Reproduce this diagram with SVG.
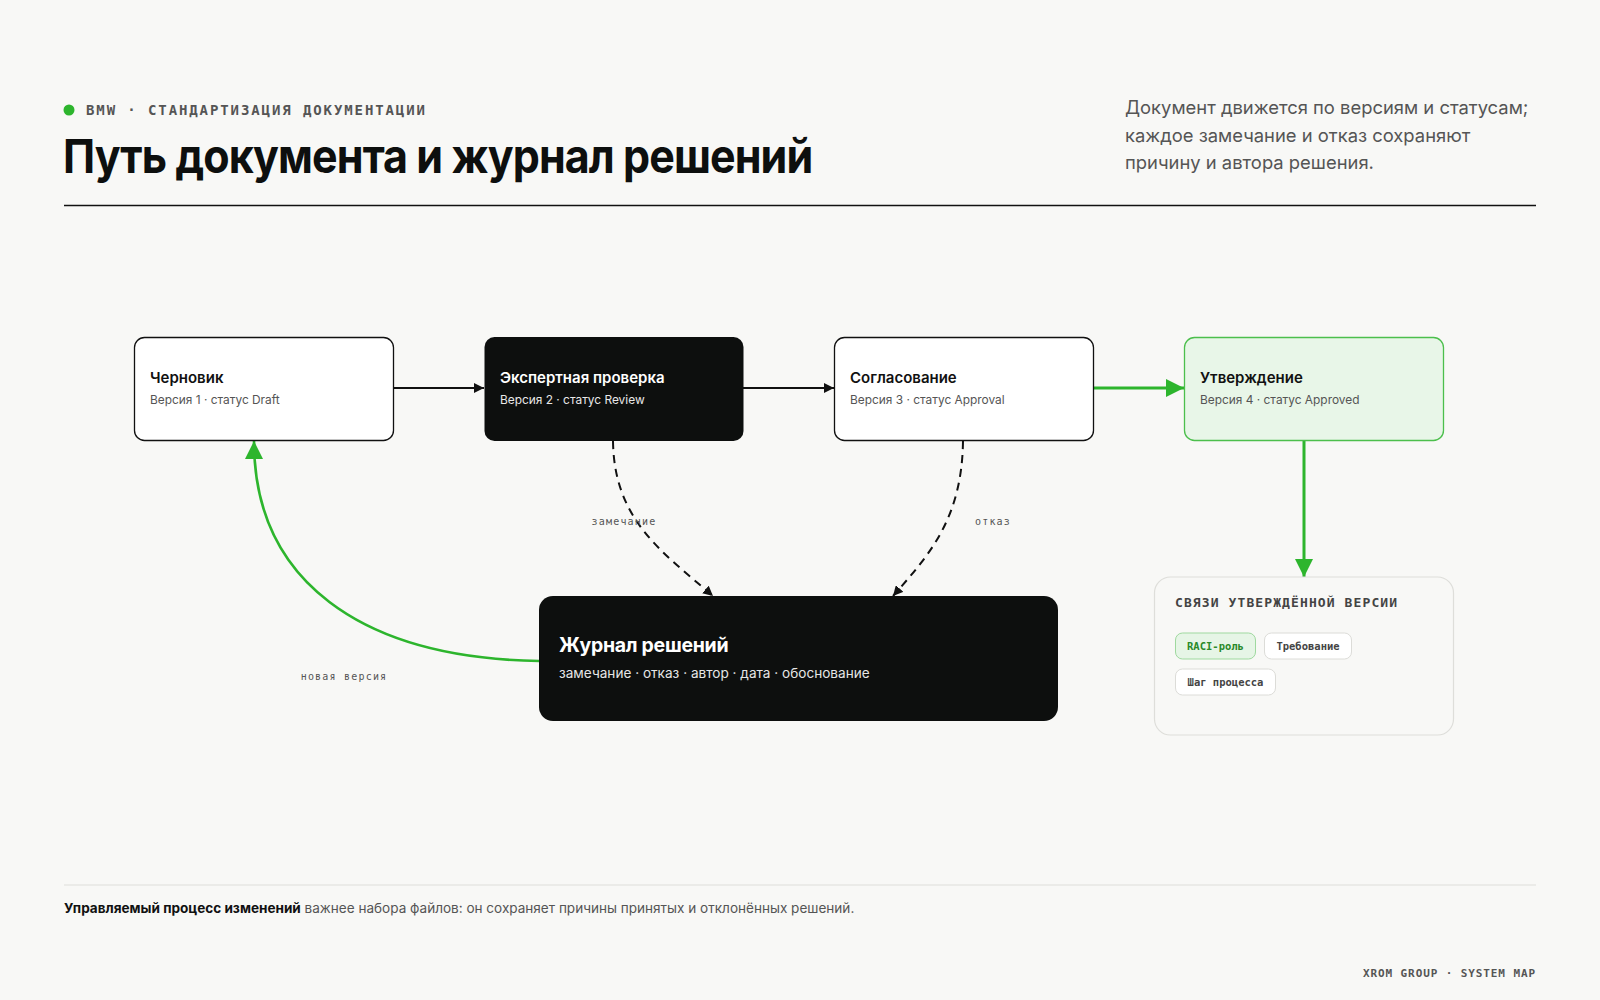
<svg xmlns="http://www.w3.org/2000/svg" width="1600" height="1000" viewBox="0 0 1600 1000">
<defs>
<style>
.sans{font-family:Inter,"Noto Sans","Liberation Sans",sans-serif}
.mono{font-family:"DejaVu Sans Mono","Liberation Mono",monospace}
.ntitle{font-family:Inter,"Noto Sans","Liberation Sans",sans-serif;font-size:15px;font-weight:600;fill:#111}
.nsub{font-family:Inter,"Noto Sans","Liberation Sans",sans-serif;font-size:11.9px;fill:#555}
.box{fill:#fff;stroke:#111;stroke-width:1.3}
.dark{fill:#0d0f0e}
.lbl{font-family:"DejaVu Sans Mono","Liberation Mono",monospace;font-size:10px;fill:#555;letter-spacing:1.2px}
.chip{fill:#fff;stroke:#dcdcd8;stroke-width:1}
.chiptxt{font-family:"DejaVu Sans Mono","Liberation Mono",monospace;font-size:10.5px;font-weight:bold;fill:#444}
</style>
<marker id="ab" viewBox="0 0 10 10" refX="10" refY="5" markerWidth="10" markerHeight="10" markerUnits="userSpaceOnUse" orient="auto"><path d="M0,0 L10,5 L0,10 z" fill="#111"/></marker>
<marker id="ag" viewBox="0 0 10 10" refX="10" refY="5" markerWidth="18" markerHeight="18" markerUnits="userSpaceOnUse" orient="auto"><path d="M0,0 L10,5 L0,10 z" fill="#2db52d"/></marker>
</defs>
<rect width="1600" height="1000" fill="#f8f8f6"/>

<g id="header">
<circle cx="69" cy="110" r="5.5" fill="#2db52d"/>
<text x="86" y="115" class="mono" font-size="14" font-weight="bold" fill="#555" letter-spacing="1.9">BMW · СТАНДАРТИЗАЦИЯ ДОКУМЕНТАЦИИ</text>
<text transform="translate(63,173) scale(0.915,1)" x="0" y="0" class="sans" font-size="47" font-weight="700" fill="#0d0f0e" letter-spacing="-1">Путь документа и журнал решений</text>
<g class="sans" font-size="18.4" fill="#555">
<text x="1125" y="114">Документ движется по версиям и статусам;</text>
<text x="1125" y="142">каждое замечание и отказ сохраняют</text>
<text x="1125" y="169">причину и автора решения.</text>
</g>
<line x1="64" y1="205.5" x2="1536" y2="205.5" stroke="#111" stroke-width="1.3"/>
</g>

<g id="connectors" fill="none">
<line x1="393" y1="388" x2="484" y2="388" stroke="#111" stroke-width="1.8" marker-end="url(#ab)"/>
<line x1="743" y1="388" x2="834" y2="388" stroke="#111" stroke-width="1.8" marker-end="url(#ab)"/>
<line x1="1093" y1="388" x2="1184" y2="388" stroke="#2db52d" stroke-width="3" marker-end="url(#ag)"/>
<line x1="1304" y1="440" x2="1304" y2="577" stroke="#2db52d" stroke-width="3" marker-end="url(#ag)"/>
<path d="M613,441 C614,520 662,552 713,596" stroke="#111" stroke-width="2" stroke-dasharray="8 6" marker-end="url(#ab)"/>
<path d="M963,441 C962,520 928,556 893,596" stroke="#111" stroke-width="2" stroke-dasharray="8 6" marker-end="url(#ab)"/>
<path d="M539,661 C360,658 254,580 254,441" stroke="#2db52d" stroke-width="2.6" marker-end="url(#ag)"/>
<text x="624" y="525" class="lbl" text-anchor="middle">замечание</text>
<text x="993" y="525" class="lbl" text-anchor="middle">отказ</text>
<text x="344" y="680" class="lbl" text-anchor="middle">новая версия</text>
</g>

<g id="node-draft">
<rect x="134.5" y="337.5" width="259" height="103" rx="10" class="box"/>
<text x="150" y="383" class="ntitle">Черновик</text>
<text x="150" y="404" class="nsub">Версия 1 · статус Draft</text>
</g>
<g id="node-review">
<rect x="484.5" y="337" width="259" height="104" rx="10" class="dark"/>
<text x="500" y="383" class="ntitle" style="fill:#fff">Экспертная проверка</text>
<text x="500" y="404" class="nsub" style="fill:#e8e8e8">Версия 2 · статус Review</text>
</g>
<g id="node-approval">
<rect x="834.5" y="337.5" width="259" height="103" rx="10" class="box"/>
<text x="850" y="383" class="ntitle">Согласование</text>
<text x="850" y="404" class="nsub">Версия 3 · статус Approval</text>
</g>
<g id="node-approved">
<rect x="1184.5" y="337.5" width="259" height="103" rx="10" fill="#e8f6e8" stroke="#4cbf4c" stroke-width="1.3"/>
<text x="1200" y="383" class="ntitle">Утверждение</text>
<text x="1200" y="404" class="nsub">Версия 4 · статус Approved</text>
</g>
<g id="node-journal">
<rect x="539" y="596" width="519" height="125" rx="14" class="dark"/>
<text x="559" y="652" class="sans" font-size="19.5" font-weight="700" fill="#fff" letter-spacing="-0.3">Журнал решений</text>
<text x="559" y="678" class="sans" font-size="13.6" fill="#e6e6e6">замечание · отказ · автор · дата · обоснование</text>
</g>
<g id="node-links">
<rect x="1154.5" y="577" width="299" height="158" rx="16" fill="#f8f8f6" stroke="#dededa" stroke-width="1.2"/>
<text x="1175" y="607" class="mono" font-size="13" font-weight="bold" fill="#444" letter-spacing="1.1">СВЯЗИ УТВЕРЖДЁННОЙ ВЕРСИИ</text>
<rect x="1175.5" y="633" width="80" height="26" rx="7" fill="#e6f5e6" stroke="#9fd99f"/>
<text x="1215.5" y="650" class="chiptxt" text-anchor="middle" style="fill:#2a8a2a">RACI-роль</text>
<rect x="1264.5" y="633" width="87" height="26" rx="7" class="chip"/>
<text x="1308" y="650" class="chiptxt" text-anchor="middle">Требование</text>
<rect x="1175.5" y="669" width="100" height="26" rx="7" class="chip"/>
<text x="1225.5" y="686" class="chiptxt" text-anchor="middle">Шаг процесса</text>
</g>

<g id="footer">
<line x1="64" y1="885" x2="1536" y2="885" stroke="#dededa" stroke-width="1"/>
<text x="64" y="913" class="sans" font-size="13.55" fill="#555"><tspan font-weight="700" fill="#111">Управляемый процесс изменений</tspan> важнее набора файлов: он сохраняет причины принятых и отклонённых решений.</text>
<text x="1536" y="977" class="mono" font-size="11" font-weight="bold" fill="#555" letter-spacing="0.9" text-anchor="end">XROM GROUP · SYSTEM MAP</text>
</g>
</svg>
